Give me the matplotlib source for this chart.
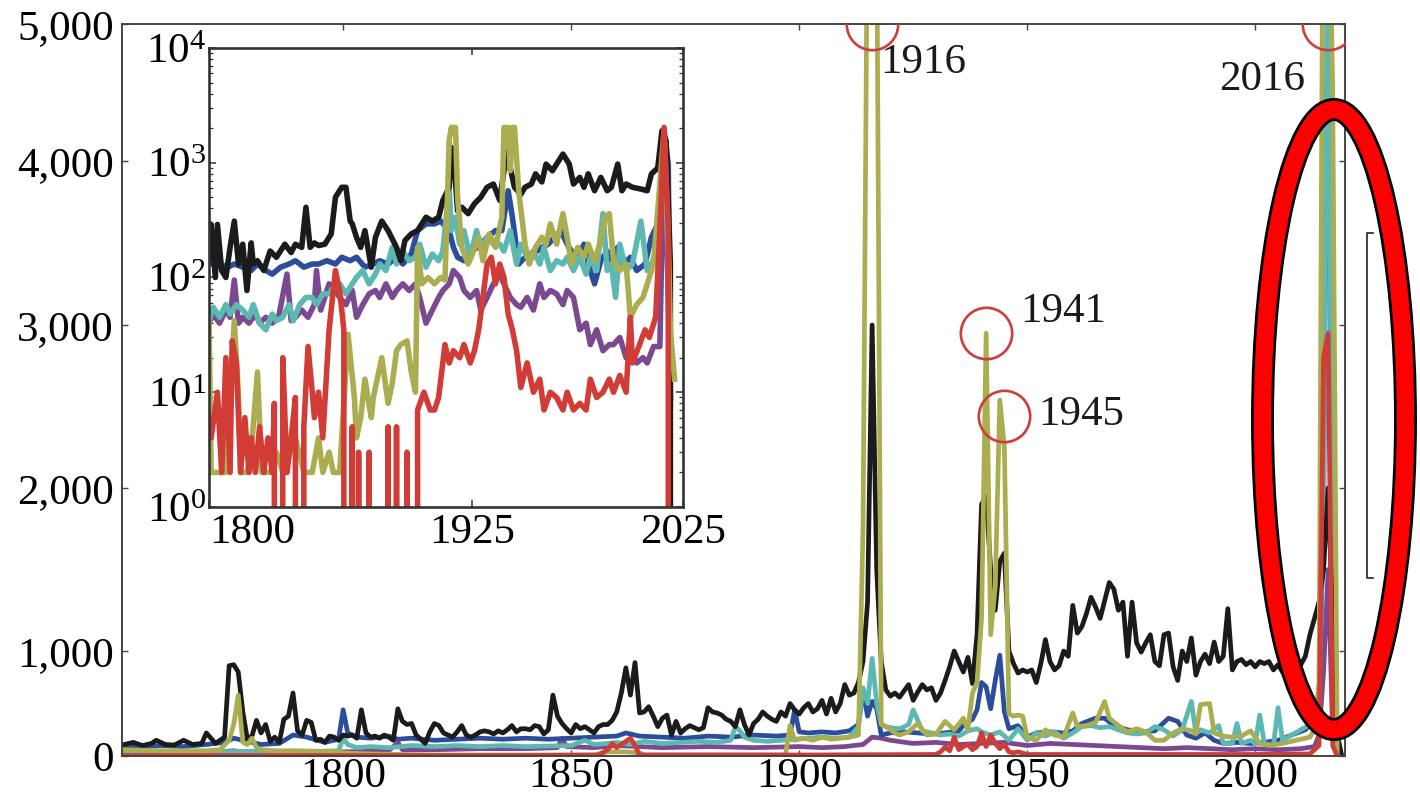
import numpy as np
import matplotlib
matplotlib.use("Agg")
from matplotlib import pyplot as plt
from matplotlib.patches import Ellipse
from matplotlib.lines import Line2D
from matplotlib.ticker import FuncFormatter, LogLocator, NullFormatter
import matplotlib.patheffects as pe

plt.rcParams['font.family'] = 'Liberation Serif'
plt.rcParams['mathtext.fontset'] = 'custom'
plt.rcParams['mathtext.rm'] = 'Liberation Serif'
plt.rcParams['mathtext.it'] = 'Liberation Serif:italic'

# ---- main panel: (year, count) ----
black_main = [(1752,110),(1754,130),(1756,100),(1758,120),(1759,150),(1761,110),(1763,105),(1765,150),
    (1767,110),(1769,120),(1770,220),(1772,120),(1774,180),(1775,860),(1776,870),(1777,800),(1778,420),
    (1779,160),(1780,190),(1781,340),(1782,220),(1783,300),(1784,140),(1785,180),(1786,130),(1787,350),
    (1788,380),(1789,600),(1790,240),(1791,200),(1792,340),(1793,320),(1794,150),(1795,160),(1796,130),
    (1797,190),(1798,180),(1799,150),(1800,200),(1801,190),(1802,200),(1803,170),(1804,440),(1805,220),
    (1806,180),(1807,190),(1808,170),(1809,200),(1810,180),(1811,150),(1812,450),(1813,330),(1814,300),
    (1815,310),(1816,200),(1817,160),(1818,120),(1819,230),(1820,310),(1821,290),(1822,220),(1823,200),
    (1824,180),(1825,230),(1826,290),(1827,200),(1828,180),(1829,200),(1830,230),(1831,240),(1832,230),
    (1833,210),(1834,240),(1835,220),(1836,250),(1837,290),(1838,230),(1839,260),(1840,260),(1841,250),
    (1842,290),(1843,280),(1844,210),(1845,250),(1846,580),(1847,380),(1848,310),(1849,260),(1850,220),
    (1851,300),(1852,260),(1853,280),(1854,250),(1855,220),(1856,280),(1857,300),(1858,300),(1859,340),
    (1860,420),(1861,600),(1862,840),(1863,580),(1864,890),(1865,410),(1866,420),(1867,470),(1868,380),
    (1869,280),(1870,360),(1871,390),(1872,200),(1873,330),(1874,220),(1875,260),(1876,290),(1877,270),
    (1878,250),(1879,270),(1880,460),(1881,420),(1882,410),(1883,390),(1884,350),(1885,330),(1886,280),
    (1887,440),(1888,300),(1889,200),(1890,310),(1891,350),(1892,420),(1893,380),(1894,350),(1895,330),
    (1896,420),(1897,380),(1898,500),(1899,440),(1900,400),(1901,460),(1902,500),(1903,420),(1904,450),
    (1905,530),(1906,400),(1907,550),(1908,420),(1909,500),(1910,680),(1911,580),(1912,600),(1913,700),
    (1914,900),(1915,1300),(1916,3000),(1917,1500),(1918,900),(1919,630),(1920,570),(1921,600),(1922,560),
    (1923,620),(1924,680),(1925,530),(1926,610),(1927,680),(1928,630),(1929,650),(1930,530),(1931,600),
    (1932,720),(1933,850),(1934,1000),(1935,900),(1936,800),(1937,940),(1938,690),(1939,1100),(1940,1900),
    (1941,1950),(1942,1500),(1943,1250),(1944,1550),(1945,1600),(1946,1000),(1947,880),(1948,790),
    (1949,820),(1950,800),(1951,820),(1952,700),(1953,880),(1954,1070),(1955,900),(1956,820),(1957,860),
    (1958,1000),(1959,950),(1960,1280),(1961,1110),(1962,1150),(1963,1230),(1964,1330),(1965,1270),
    (1966,1200),(1967,1310),(1968,1420),(1969,1380),(1970,1250),(1971,1300),(1972,950),(1973,1300),
    (1974,1050),(1975,990),(1976,1050),(1977,1100),(1978,900),(1979,860),(1980,1100),(1981,1110),
    (1982,850),(1983,720),(1984,1000),(1985,900),(1986,1080),(1987,770),(1988,900),(1989,970),(1990,880),
    (1991,1055),(1992,900),(1993,950),(1994,1260),(1995,820),(1996,900),(1997,920),(1998,870),(1999,900),
    (2000,850),(2001,900),(2002,880),(2003,900),(2004,820),(2005,870),(2006,800),(2007,850),(2008,880),
    (2009,900),(2010,870),(2011,950),(2012,1100),(2013,1200),(2014,1300),(2015,1500),(2016,2000),
    (2017,1200),(2018,200),(2019,0)]

olive_main = [(1752,60),(1760,50),(1770,50),(1773,60),(1775,150),(1776,300),(1777,580),(1778,130),
    (1779,110),(1780,170),(1781,80),(1782,60),(1785,50),(1790,50),(1795,45),(1799,40),(1800,30),(1806,20),
    (1820,10),(1840,10),(1855,10),(1856,20),(1858,40),(1862,40),(1865,30),(1866,10),(1880,10),(1897,10),
    (1898,290),(1899,150),(1901,170),(1903,150),(1905,180),(1907,160),(1909,170),(1911,180),(1913,200),
    (1914,1750),(1915,6000),(1916,6500),(1917,5800),(1918,300),(1919,280),(1920,250),(1921,220),(1922,200),
    (1924,230),(1926,310),(1928,200),(1930,210),(1932,330),(1934,250),(1936,360),(1937,250),(1938,600),
    (1939,700),(1940,1200),(1941,2950),(1942,1100),(1943,1400),(1944,2540),(1945,2250),(1946,400),
    (1947,380),(1948,390),(1949,380),(1950,180),(1952,150),(1954,250),(1956,200),(1958,180),(1960,410),
    (1961,280),(1963,290),(1965,320),(1967,520),(1968,360),(1970,290),(1972,230),(1974,260),(1976,230),
    (1978,150),(1980,150),(1982,220),(1984,260),(1986,240),(1987,210),(1988,490),(1990,500),(1991,220),
    (1993,190),(1995,180),(1997,190),(1999,240),(2001,120),(2003,100),(2006,120),(2009,150),(2012,180),
    (2013,250),(2014,700),(2015,7000),(2016,6500),(2017,4500),(2018,0)]

teal_main = [(1752,40),(1760,35),(1770,40),(1780,45),(1790,40),(1799,50),(1800,170),(1801,110),(1803,80),
    (1806,90),(1810,80),(1815,100),(1820,90),(1825,100),(1830,90),(1835,100),(1840,90),(1845,95),(1850,100),
    (1853,150),(1855,110),(1858,120),(1860,130),(1863,110),(1866,140),(1870,120),(1874,130),(1878,140),
    (1882,130),(1885,150),(1886,280),(1887,240),(1888,180),(1890,150),(1893,140),(1896,150),(1899,160),
    (1902,170),(1905,180),(1908,170),(1911,180),(1913,280),(1914,650),(1915,500),(1916,930),(1917,500),
    (1918,300),(1919,280),(1920,270),(1922,260),(1924,300),(1925,440),(1927,240),(1929,220),(1931,200),
    (1933,210),(1935,190),(1937,240),(1939,260),(1940,230),(1942,200),(1944,230),(1946,150),(1948,260),
    (1950,150),(1952,220),(1954,190),(1956,230),(1958,170),(1960,220),(1962,280),(1964,290),(1966,270),
    (1968,280),(1970,250),(1972,220),(1974,210),(1976,220),(1978,280),(1980,250),(1982,190),(1984,250),
    (1986,520),(1987,220),(1988,250),(1990,220),(1992,290),(1993,120),(1995,120),(1996,310),(1997,120),
    (1999,150),(2000,120),(2001,390),(2002,120),(2004,100),(2005,460),(2006,150),(2008,200),(2010,250),
    (2012,300),(2014,500),(2015,2000),(2016,6000),(2017,300),(2018,0)]

blue_main = [(1752,100),(1756,90),(1760,100),(1765,90),(1770,110),(1774,130),(1776,170),(1778,150),
    (1782,110),(1786,120),(1789,200),(1792,180),(1796,130),(1799,160),(1800,440),(1801,220),(1803,180),
    (1806,170),(1810,190),(1812,160),(1815,170),(1820,150),(1825,160),(1830,170),(1835,160),(1840,170),
    (1845,160),(1850,170),(1855,180),(1860,190),(1862,220),(1865,190),(1870,180),(1875,170),(1880,190),
    (1885,180),(1890,200),(1895,190),(1898,200),(1899,440),(1900,230),(1902,220),(1905,230),(1908,220),
    (1911,240),(1913,300),(1914,620),(1915,380),(1916,520),(1917,450),(1918,200),(1920,220),(1923,230),
    (1926,220),(1929,210),(1932,220),(1935,240),(1936,290),(1938,350),(1939,440),(1940,700),(1941,660),
    (1942,450),(1943,720),(1944,960),(1945,420),(1946,260),(1948,290),(1950,180),(1952,220),(1955,230),
    (1958,220),(1960,240),(1962,310),(1965,360),(1967,360),(1969,290),(1972,250),(1975,230),(1978,240),
    (1981,360),(1983,330),(1985,200),(1987,170),(1989,220),(1991,150),(1993,120),(1996,130),(1999,120),
    (2002,130),(2005,150),(2008,200),(2011,250),(2013,340),(2014,500),(2015,1800),(2016,6000),(2017,300),
    (2018,0)]

purple_main = [(1752,30),(1760,25),(1770,30),(1776,50),(1778,40),(1790,30),(1800,40),(1810,50),(1812,130),
    (1813,60),(1820,60),(1830,70),(1840,70),(1847,80),(1848,170),(1849,90),(1855,80),(1860,100),(1865,90),
    (1870,80),(1880,90),(1890,80),(1900,90),(1905,80),(1910,90),(1914,110),(1916,180),(1918,170),(1920,150),
    (1925,120),(1930,130),(1935,110),(1940,120),(1945,130),(1950,100),(1955,120),(1960,110),(1965,100),
    (1970,90),(1975,80),(1980,70),(1985,80),(1990,70),(1995,60),(2000,70),(2005,60),(2010,70),(2013,90),
    (2014,200),(2015,800),(2016,1500),(2017,200),(2018,0)]

red_main = [(1752,5),(1800,5),(1840,5),(1856,10),(1858,60),(1859,120),(1860,80),(1861,110),(1862,140),
    (1863,170),(1864,100),(1865,10),(1900,10),(1930,15),(1931,40),(1932,85),(1933,50),(1934,180),(1935,60),
    (1936,90),(1937,110),(1938,60),(1939,90),(1940,220),(1941,90),(1942,200),(1943,120),(1944,70),(1945,110),
    (1946,40),(1947,30),(1948,40),(1950,15),(1980,15),(2000,15),(2012,20),(2014,100),(2015,2800),(2016,2950),
    (2017,100),(2018,0)]

# ---- inset: (year, count), log scale ----
black_inset = [(1800,150),(1801,290),(1803,100),(1804,290),(1806,115),(1808,100),(1810,183),(1812,310),
    (1814,131),(1816,195),(1818,77),(1820,200),(1821,131),(1823,140),(1826,115),(1829,170),(1832,150),
    (1836,195),(1839,165),(1841,195),(1844,183),(1846,409),(1848,183),(1850,200),(1852,190),(1855,195),
    (1858,240),(1860,500),(1863,611),(1865,611),(1867,310),(1868,293),(1870,224),(1872,183),(1874,256),
    (1877,123),(1879,224),(1882,310),(1885,256),(1889,183),(1891,140),(1893,210),(1896,240),(1899,256),
    (1901,293),(1903,335),(1906,310),(1909,335),(1911,470),(1914,611),(1915,1360),(1916,1190),(1918,380),
    (1920,409),(1923,360),(1926,440),(1929,500),(1932,611),(1935,652),(1938,470),(1940,851),(1942,1260),
    (1943,900),(1945,611),(1948,530),(1950,611),(1953,652),(1955,800),(1958,680),(1960,973),(1963,851),
    (1966,1040),(1968,1190),(1971,973),(1973,652),(1976,745),(1978,611),(1980,800),(1983,570),(1986,745),
    (1989,570),(1991,611),(1994,973),(1996,570),(1998,652),(2001,611),(2005,590),(2008,570),(2010,800),
    (2013,900),(2015,1900),(2017,1560),(2019,131),(2020,0)]

olive_inset = [(1800,42),(1801,2),(1806,2),(1808,2),(1812,42),(1814,9),(1815,2),(1818,2),(1820,3),
    (1823,15),(1825,2),(1829,2),(1832,3),(1835,2),(1841,4),(1845,2),(1849,2),(1852,4),(1854,2),(1857,3),
    (1859,2),(1862,2),(1866,32),(1869,9),(1870,4),(1872,6),(1874,13),(1877,6),(1878,9),(1882,20),(1885,8),
    (1887,12),(1889,23),(1891,26),(1894,28),(1896,15),(1898,10),(1899,183),(1901,88),(1904,100),(1907,88),
    (1910,100),(1912,95),(1914,1560),(1915,2030),(1917,2030),(1918,500),(1920,183),(1923,131),(1925,160),
    (1928,224),(1930,140),(1933,240),(1936,183),(1939,335),(1940,2030),(1942,2030),(1943,851),(1944,2030),
    (1945,2030),(1947,570),(1950,195),(1952,131),(1955,183),(1958,224),(1960,195),(1962,293),(1965,195),
    (1968,360),(1970,224),(1972,131),(1975,183),(1978,150),(1980,195),(1983,140),(1986,210),(1988,335),
    (1990,360),(1992,140),(1995,115),(1998,131),(2000,45),(2003,58),(2006,67),(2009,100),(2011,131),
    (2014,652),(2016,1900),(2018,224),(2019,35),(2021,13)]

red_inset = [(1800,6),(1801,4),(1804,10),(1806,2),(1808,20),(1810,2),(1811,28),(1813,18),(1815,2),(1817,6),
    (1819,2),(1820,4),(1822,2),(1824,5),(1826,2),(1828,4),(1830,2),(1831,8),(1833,0),(1835,20),(1837,2),
    (1839,4),(1841,9),(1843,0),(1845,5),(1847,25),(1849,10),(1850,6),(1852,10),(1854,4),(1857,35),(1860,115),
    (1862,77),(1864,35),(1866,0),(1868,5),(1870,0),(1871,3),(1873,0),(1876,3),(1878,0),(1882,0),(1885,5),
    (1887,0),(1889,5),(1892,0),(1894,3),(1896,0),(1899,7),(1902,10),(1905,7),(1907,7),(1909,9),(1912,26),
    (1914,18),(1916,23),(1919,20),(1921,26),(1924,18),(1926,23),(1928,35),(1930,67),(1932,131),(1934,150),
    (1936,88),(1938,131),(1940,100),(1942,48),(1944,35),(1946,23),(1948,11),(1951,18),(1954,10),(1957,13),
    (1959,7),(1962,10),(1965,9),(1968,7),(1970,10),(1973,7),(1976,8),(1979,7),(1981,13),(1984,9),(1987,10),
    (1990,13),(1992,10),(1995,14),(1998,10),(2000,45),(2001,18),(2004,25),(2007,35),(2009,30),(2012,45),
    (2014,256),(2016,2030),(2018,256),(2019,0)]

teal_inset = [(1800,42),(1802,55),(1805,45),(1808,58),(1810,48),(1813,58),(1816,52),(1819,45),(1821,58),
    (1824,40),(1827,35),(1830,48),(1832,42),(1835,45),(1838,58),(1840,42),(1843,58),(1846,67),(1849,67),
    (1851,58),(1854,72),(1857,72),(1860,88),(1862,88),(1865,72),(1868,88),(1870,100),(1873,115),(1876,88),
    (1879,107),(1881,131),(1884,115),(1887,183),(1889,131),(1892,170),(1895,140),(1898,150),(1900,195),
    (1903,123),(1906,160),(1909,140),(1911,170),(1914,611),(1915,256),(1917,335),(1919,195),(1921,256),
    (1924,150),(1927,256),(1929,183),(1932,224),(1935,195),(1938,195),(1940,170),(1943,256),(1946,131),
    (1948,195),(1951,150),(1954,170),(1957,131),(1959,183),(1962,115),(1965,140),(1968,131),(1970,150),
    (1973,115),(1976,150),(1979,107),(1981,150),(1984,115),(1987,360),(1989,115),(1991,131),(1993,67),
    (1995,195),(1998,115),(2001,131),(2005,310),(2008,115),(2010,131),(2013,183),(2016,1900),(2018,131),
    (2019,8)]

blue_inset = [(1800,293),(1801,131),(1805,131),(1809,123),(1812,131),(1816,123),(1820,115),(1823,131),
    (1827,115),(1830,107),(1834,123),(1838,131),(1841,140),(1845,123),(1849,131),(1852,131),(1856,140),
    (1860,131),(1863,150),(1867,140),(1870,150),(1874,123),(1878,131),(1881,140),(1885,131),(1889,150),
    (1892,131),(1896,160),(1899,256),(1903,293),(1907,293),(1910,310),(1914,256),(1916,183),(1918,150),
    (1921,140),(1925,170),(1929,195),(1932,224),(1936,256),(1939,256),(1940,335),(1942,570),(1944,335),
    (1947,131),(1950,150),(1954,160),(1958,183),(1961,195),(1964,224),(1967,256),(1970,195),(1972,170),
    (1975,150),(1978,195),(1980,131),(1983,88),(1986,140),(1989,170),(1991,131),(1994,183),(1997,131),
    (2000,150),(2003,115),(2007,131),(2010,224),(2013,293),(2016,1900),(2018,973),(2019,9)]

purple_inset = [(1800,40),(1802,48),(1805,40),(1808,52),(1810,45),(1812,95),(1814,40),(1816,45),(1819,40),
    (1822,48),(1824,40),(1827,45),(1830,40),(1833,45),(1837,107),(1839,42),(1841,45),(1844,52),(1847,45),
    (1850,58),(1851,115),(1853,52),(1857,88),(1860,77),(1862,67),(1865,58),(1868,77),(1870,45),(1873,58),
    (1876,72),(1879,77),(1881,67),(1884,88),(1887,67),(1889,77),(1892,88),(1895,77),(1898,88),(1900,67),
    (1903,40),(1906,52),(1909,67),(1911,77),(1914,88),(1916,115),(1919,100),(1921,77),(1924,67),(1927,77),
    (1929,52),(1932,67),(1935,88),(1938,107),(1940,88),(1943,67),(1946,58),(1948,55),(1951,67),(1954,52),
    (1957,88),(1959,67),(1962,77),(1965,72),(1968,58),(1970,77),(1973,67),(1976,35),(1979,40),(1981,26),
    (1984,35),(1987,23),(1990,26),(1992,26),(1995,30),(1998,20),(2000,23),(2003,18),(2006,20),(2008,18),
    (2011,25),(2014,25),(2016,1900),(2018,67),(2019,9)]

main_ticks_x = [1800, 1850, 1900, 1950, 2000]
main_ticks_y = [0, 1000, 2000, 3000, 4000, 5000]
inset_ticks_x = [1800, 1925, 2025]
marked_peaks = [(1916, 5000), (2016, 5000), (1941, 2950), (1945, 2440)]

C_BLACK = '#1b1b1b'
C_BLUE = '#2b4d9c'
C_TEAL = '#5cb8b0'
C_PURPLE = '#7b4892'
C_RED = '#d23c36'
C_OLIVE = '#aaad50'

# y axis of the main panel is stretched piecewise: 0-1000 compressed
knot_vals = np.array([0., 1000., 2000., 3000., 4000., 5000.])
knot_pos = np.array([0., 105., 268., 431., 595., 732.])


def _extrap(x, xs, ys):
    x = np.asarray(x, dtype=float)
    out = np.interp(x, xs, ys)
    hi_slope = (ys[-1] - ys[-2]) / (xs[-1] - xs[-2])
    lo_slope = (ys[1] - ys[0]) / (xs[1] - xs[0])
    out = np.where(x > xs[-1], ys[-1] + (x - xs[-1]) * hi_slope, out)
    out = np.where(x < xs[0], ys[0] + (x - xs[0]) * lo_slope, out)
    return out


def fwd(v):
    return _extrap(v, knot_vals, knot_pos)


def inv(u):
    return _extrap(u, knot_pos, knot_vals)


fig = plt.figure(figsize=(14.2, 7.97), dpi=100)
ax = fig.add_axes([0.0859, 0.0514, 0.8613, 0.9185])

series_main = [(purple_main, C_PURPLE), (blue_main, C_BLUE), (teal_main, C_TEAL),
               (black_main, C_BLACK), (olive_main, C_OLIVE), (red_main, C_RED)]
for data, col in series_main:
    yrs, vals = np.array(data, dtype=float).T
    ax.plot(yrs, vals, color=col, lw=3.4, solid_joinstyle='round')

ax.set_yscale('function', functions=(fwd, inv))
ax.set_xlim(1751.5, 2019.7)
ax.set_ylim(0, 5000)
ax.set_xticks(main_ticks_x)
ax.set_yticks(main_ticks_y)
ax.yaxis.set_major_formatter(FuncFormatter(lambda v, p: f'{int(round(v)):,}'))
ax.yaxis.set_minor_locator(matplotlib.ticker.NullLocator())
ax.tick_params(direction='in', top=True, right=True, length=4, width=1.0,
               labelsize=31, color='#444444')
ax.tick_params(axis='y', pad=6)
ax.tick_params(axis='x', pad=1)
for s in ax.spines.values():
    s.set_color('#444444')
    s.set_linewidth(1.4)

# circled peaks and their year labels
for yr, val in marked_peaks:
    ax.plot([yr], [val], 'o', ms=37, mfc='none', mec='#cc3d3d', mew=1.9, zorder=8)
ax.text(1917.8, 4720, '1916', fontsize=31, ha='left', va='center', color='#1a1a1a')
ax.text(2011.0, 4590, '2016', fontsize=31, ha='right', va='center', color='#1a1a1a')
ax.text(1948.5, 3080, '1941', fontsize=31, ha='left', va='center', color='#1a1a1a')
ax.text(1952.4, 2448, '1945', fontsize=31, ha='left', va='center', color='#1a1a1a')

# inset on log scale
ins = fig.add_axes([0.1472, 0.3639, 0.3338, 0.5759])
series_inset = [(purple_inset, C_PURPLE), (blue_inset, C_BLUE), (teal_inset, C_TEAL),
                (black_inset, C_BLACK), (olive_inset, C_OLIVE), (red_inset, C_RED)]
ins.set_yscale('log', nonpositive='clip')
for data, col in series_inset:
    yrs, vals = np.array(data, dtype=float).T
    ins.plot(yrs, vals, color=col, lw=4.0, solid_joinstyle='round')
ins.set_xlim(1800, 2025)
ins.set_ylim(1, 1e4)
ins.set_xticks(inset_ticks_x)
ins.yaxis.set_major_locator(LogLocator(base=10, numticks=10))
ins.yaxis.set_minor_locator(LogLocator(base=10, subs=np.arange(2, 10), numticks=10))
ins.yaxis.set_minor_formatter(NullFormatter())
ins.tick_params(which='both', direction='in', top=True, right=True, labelsize=31,
                color='#333333')
ins.tick_params(which='major', length=5, width=1.1)
ins.tick_params(which='minor', length=3, width=0.9)
ins.tick_params(axis='y', pad=2)
ins.tick_params(axis='x', pad=5)
for s in ins.spines.values():
    s.set_color('#333333')
    s.set_linewidth(1.9)
fig.canvas.draw()
ins.get_xticklabels()[0].set_horizontalalignment('left')

# highlight ring over the last spike
ring = Ellipse((1334 / 1420, 1 - 419.5 / 797), 143 / 1420, 620 / 797,
               transform=fig.transFigure, fill=False, edgecolor='#ff0000',
               linewidth=12.5, zorder=20)
ring.set_path_effects([pe.Stroke(linewidth=16.5, foreground='black'), pe.Normal()])
fig.add_artist(ring)

# bracket to the right of the frame
fig.add_artist(Line2D([1373 / 1420, 1367 / 1420, 1367 / 1420, 1373 / 1420],
                      [1 - 233 / 797, 1 - 233 / 797, 1 - 578 / 797, 1 - 578 / 797],
                      transform=fig.transFigure, color='#333333', lw=1.3))

fig.savefig('out.png', dpi=100)
